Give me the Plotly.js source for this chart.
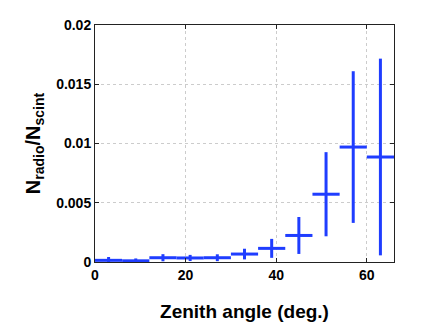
<!DOCTYPE html>
<html>
<head>
<meta charset="utf-8">
<script src="https://cdn.plot.ly/plotly-3.0.1.min.js"></script>
<style>
  html, body { margin: 0; padding: 0; background: #fff; }
  #chart { width: 436px; height: 328px; }
</style>
</head>
<body>
<div id="chart"></div>
<script>
// zenith angle bins (centres, deg.) and half-widths
var angles = [3, 9, 15, 21, 27, 33, 39, 45, 51, 57, 63];
var binHalf = [3, 3, 3, 3, 3, 3, 3, 3, 3, 3, 3];
// ratio N_radio / N_scint and its error
var ratio = [0.00014, 0.0001, 0.00036, 0.00034, 0.00036, 0.00067, 0.00115, 0.00224, 0.00572, 0.0097, 0.00886];
var ratioErr = [0.00028, 0.0002, 0.0003, 0.00026, 0.00029, 0.00045, 0.0008, 0.00156, 0.00355, 0.0064, 0.0083];

var blue = '#1f3dff';

var trace = {
    x: angles,
    y: ratio,
    type: 'scatter',
    mode: 'markers',
    marker: {size: 1, color: blue, opacity: 0},
    error_x: {type: 'data', array: binHalf, visible: true, color: blue, thickness: 3, width: 0},
    error_y: {type: 'data', array: ratioErr, visible: true, color: blue, thickness: 3, width: 0},
    hoverinfo: 'none'
};

var tickFont = {family: 'Liberation Sans, Arial, sans-serif', size: 14, color: '#000', weight: 'bold'};

var layout = {
    width: 436,
    height: 328,
    margin: {l: 95, r: 42, t: 25, b: 66},
    paper_bgcolor: '#fff',
    plot_bgcolor: '#fff',
    showlegend: false,
    xaxis: {
        range: [0, 66],
        tickvals: [0, 20, 40, 60],
        ticktext: ['0', '20', '40', '60'],
        ticks: 'inside',
        ticklen: 4,
        tickcolor: '#222',
        showline: true,
        mirror: 'ticks',
        linecolor: '#222',
        linewidth: 1,
        showgrid: true,
        gridcolor: '#cccccc',
        griddash: 'dot',
        gridwidth: 1,
        zeroline: false,
        tickfont: tickFont,
        title: {
            text: 'Zenith angle (deg.)',
            font: {family: 'Liberation Sans, Arial, sans-serif', size: 19, color: '#000', weight: 'bold'},
            standoff: 22
        }
    },
    yaxis: {
        range: [0, 0.02],
        tickvals: [0, 0.005, 0.01, 0.015, 0.02],
        ticktext: ['0', '0.005', '0.01', '0.015', '0.02'],
        ticks: 'inside',
        ticklen: 4,
        tickcolor: '#222',
        showline: true,
        mirror: 'ticks',
        linecolor: '#222',
        linewidth: 1,
        showgrid: true,
        gridcolor: '#cccccc',
        griddash: 'dot',
        gridwidth: 1,
        zeroline: false,
        tickfont: tickFont,
        title: {
            text: 'N<sub>radio</sub>/N<sub>scint</sub>',
            font: {family: 'Liberation Sans, Arial, sans-serif', size: 20, color: '#000', weight: 'bold'},
            standoff: 10
        }
    }
};

Plotly.newPlot('chart', [trace], layout, {displayModeBar: false, staticPlot: true});
</script>
</body>
</html>
